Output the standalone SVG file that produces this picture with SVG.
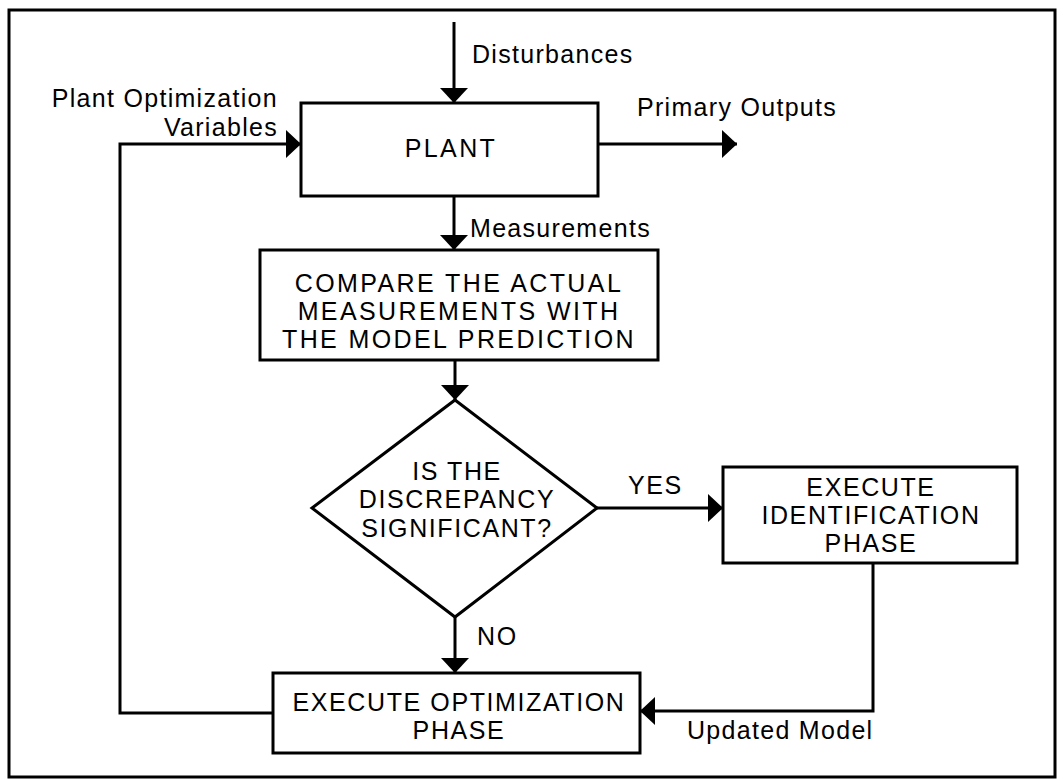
<svg xmlns="http://www.w3.org/2000/svg" width="1063" height="780" viewBox="0 0 1063 780">
<style>
.box{fill:#fff;stroke:#000;stroke-width:3}
.ln{fill:none;stroke:#000;stroke-width:3}
text{font-family:"Liberation Sans",Arial,sans-serif;font-size:25px;letter-spacing:1.6px;fill:#000}
.wide{letter-spacing:2.4px}
.lb{font-size:25px;letter-spacing:1.3px}
.c{text-anchor:middle}
</style>
<defs>
<marker id="ah" viewBox="0 0 15 28" refX="15" refY="14" markerWidth="15" markerHeight="28" markerUnits="userSpaceOnUse" orient="auto">
<path d="M0,0 L15,14 L0,28 Z" fill="#000"/>
</marker>
</defs>
<rect x="9" y="10" width="1046" height="767" fill="#fff" stroke="#000" stroke-width="3"/>
<g id="connectors">
<path class="ln" d="M454,22 V103" marker-end="url(#ah)"/>
<path class="ln" d="M598,144 H737" marker-end="url(#ah)"/>
<path class="ln" d="M454,196 V250" marker-end="url(#ah)"/>
<path class="ln" d="M455,360 V400" marker-end="url(#ah)"/>
<path class="ln" d="M597,508 H723" marker-end="url(#ah)"/>
<path class="ln" d="M455,617 V673" marker-end="url(#ah)"/>
<path class="ln" d="M873,563 V711 H640" marker-end="url(#ah)"/>
<path class="ln" d="M273,713 H120 V144 H301" marker-end="url(#ah)"/>
</g>
<g id="plant">
<rect class="box" x="301" y="103" width="297" height="93"/>
<text class="c wide" x="451" y="157">PLANT</text>
</g>
<g id="compare">
<rect class="box" x="260" y="250" width="398" height="110"/>
<text class="c wide" x="459" y="292">COMPARE THE ACTUAL</text>
<text class="c wide" x="459" y="320">MEASUREMENTS WITH</text>
<text class="c wide" x="459" y="348">THE MODEL PREDICTION</text>
</g>
<g id="decision">
<polygon class="box" points="455,400 597,508 455,617 312,508"/>
<text class="c" x="457" y="480">IS THE</text>
<text class="c" x="457" y="508">DISCREPANCY</text>
<text class="c" x="457" y="537">SIGNIFICANT?</text>
</g>
<g id="identification">
<rect class="box" x="723" y="467" width="294" height="96"/>
<text class="c" x="871" y="496">EXECUTE</text>
<text class="c" x="871" y="524">IDENTIFICATION</text>
<text class="c" x="871" y="552">PHASE</text>
</g>
<g id="optimization">
<rect class="box" x="273" y="673" width="367" height="80"/>
<text class="c" x="459" y="711">EXECUTE OPTIMIZATION</text>
<text class="c" x="459" y="739">PHASE</text>
</g>
<g id="labels">
<text class="lb" x="472" y="63">Disturbances</text>
<text class="lb" x="637" y="116">Primary Outputs</text>
<text class="lb" x="278" y="107" text-anchor="end">Plant Optimization</text>
<text class="lb" x="278" y="136" text-anchor="end">Variables</text>
<text class="lb" x="470" y="237">Measurements</text>
<text x="628" y="494">YES</text>
<text x="477" y="645">NO</text>
<text class="lb" x="687" y="739">Updated Model</text>
</g>
</svg>
